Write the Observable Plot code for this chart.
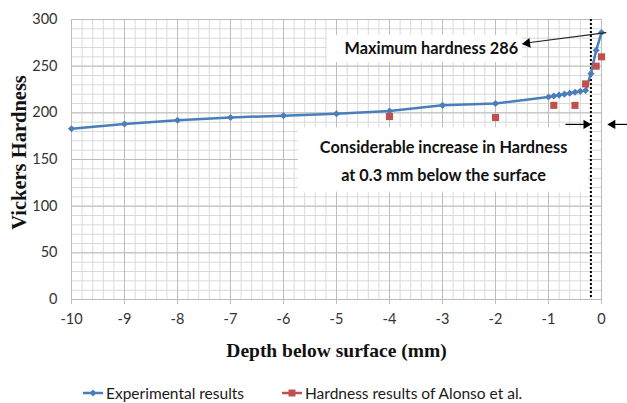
<!DOCTYPE html>
<html><head><meta charset="utf-8">
<script src="https://cdn.jsdelivr.net/npm/d3@7"></script>
<script src="https://cdn.jsdelivr.net/npm/@observablehq/plot@0.6"></script>
<style>
body{margin:0;background:#fff;}
#wrap{position:relative;width:627px;height:403px;overflow:hidden;background:#fff;}
#wrap svg{display:block;}
.leg{position:absolute;top:383px;height:20px;display:flex;align-items:center;font-family:Lato,"Liberation Sans",sans-serif;font-size:15.5px;color:#1a1a1a;white-space:nowrap;}
.leg svg{margin-right:3px;}
</style></head><body><div id="wrap"></div>
<script>
// ---- data ----
const depthExp = [-10, -9, -8, -7, -6, -5, -4, -3, -2, -1, -0.9, -0.8, -0.7, -0.6, -0.5, -0.4, -0.3, -0.2, -0.1, 0];
const hardExp  = [183, 188, 192, 195, 197, 199, 202, 208, 210, 217, 218, 219, 220, 221, 222, 223, 224, 242, 267, 286];
const depthAlonso = [-4, -2, -0.9, -0.5, -0.3, -0.1, 0];
const hardAlonso  = [196, 195, 208, 208, 231, 250, 260];
const xTicks = [-10, -9, -8, -7, -6, -5, -4, -3, -2, -1, 0];
const yTicks = [0, 50, 100, 150, 200, 250, 300];
const seriesNames = ["Experimental results", "Hardness results of Alonso et al."];
const xTitle = "Depth below surface (mm)";
const yTitle = "Vickers Hardness";
const noteMax = "Maximum hardness 286";
const noteInc1 = "Considerable increase in Hardness";
const noteInc2 = "at 0.3 mm below the surface";
const onsetDepth = -0.2;

const blue = "#4a7ebb", red = "#c0504d";
const exp = depthExp.map((d, i) => ({depth: d, hv: hardExp[i]}));
const alo = depthAlonso.map((d, i) => ({depth: d, hv: hardAlonso[i]}));
const xMinor = d3.range(-10, 0.001, 0.2).map(v => +v.toFixed(1));
const yMinor = d3.range(0, 301, 10);

const bold = {fontFamily: "Lato, 'Liberation Sans', sans-serif", fontWeight: "bold", fontSize: 16.3, fill: "#111"};
const serif = {fontFamily: "'Liberation Serif', 'DejaVu Serif', serif", fontWeight: "bold", fill: "#111"};

const chart = Plot.plot({
  width: 627, height: 372,
  marginLeft: 71, marginRight: 26, marginTop: 19, marginBottom: 73,
  x: {domain: [-10, 0]},
  y: {domain: [0, 300]},
  style: {fontFamily: "Lato, 'Liberation Sans', sans-serif", fontSize: "14.5px", color: "#404040", background: "white", overflow: "visible"},
  marks: [
    Plot.ruleX(xMinor, {stroke: "#d9d9d9", strokeWidth: 1}),
    Plot.ruleY(yMinor, {stroke: "#d9d9d9", strokeWidth: 1}),
    Plot.ruleX(xTicks, {stroke: "#bcbcbc", strokeWidth: 1}),
    Plot.ruleY(yTicks, {stroke: "#bcbcbc", strokeWidth: 1}),
    Plot.axisX({ticks: xTicks, tickSize: 5, tickPadding: 9, label: null, stroke: "#bcbcbc", fill: "#333", tickFormat: d => String(d)}),
    Plot.axisY({ticks: yTicks, tickSize: 0, tickPadding: 14, label: null, fill: "#333", tickFormat: d => String(d)}),
    // annotation boxes
    Plot.rect([{x1: -5.17, x2: -1.49, y1: 254, y2: 283}], {x1: "x1", x2: "x2", y1: "y1", y2: "y2", fill: "white"}),
    Plot.rect([{x1: -5.72, x2: -0.25, y1: 115, y2: 184}], {x1: "x1", x2: "x2", y1: "y1", y2: "y2", fill: "white"}),
    // onset line
    Plot.ruleX([onsetDepth], {stroke: "#000", strokeWidth: 2, strokeDasharray: "2,2"}),
    // series
    Plot.line(exp, {x: "depth", y: "hv", stroke: blue, strokeWidth: 2.5}),
    Plot.dot(exp, {x: "depth", y: "hv", symbol: "diamond2", r: 3.2, fill: blue}),
    Plot.dot(alo, {x: "depth", y: "hv", symbol: "square", r: 4, fill: red}),
    // arrows
    Plot.link([{x1: 0.09, y1: 286, x2: -1.42, y2: 274.8}], {x1: "x1", y1: "y1", x2: "x2", y2: "y2", stroke: "#222", strokeWidth: 1.2}),
    Plot.dot([{x: -1.40, y: 274.6}], {x: "x", y: "y", symbol: "triangle2", r: 4.6, fill: "#000", rotate: -97}),
    Plot.link([{x1: -0.68, y1: 187.6, x2: -0.3, y2: 187.6}, {x1: 0.49, y1: 187.6, x2: 0.22, y2: 187.6}], {x1: "x1", y1: "y1", x2: "x2", y2: "y2", stroke: "#000", strokeWidth: 1.2}),
    Plot.dot([{x: -0.29, y: 187.6, a: 90}, {x: 0.21, y: 187.6, a: -90}], {x: "x", y: "y", symbol: "triangle2", r: 4.4, fill: "#000", rotate: "a"}),
    // annotation texts
    Plot.text([{x: -3.21, y: 269, t: noteMax}], {x: "x", y: "y", text: "t", ...bold}),
    Plot.text([{x: -2.98, y: 163, t: noteInc1}, {x: -2.98, y: 133, t: noteInc2}], {x: "x", y: "y", text: "t", ...bold}),
    // axis titles
    Plot.text([yTitle], {frameAnchor: "left", dx: -52, dy: -7, rotate: -90, textAnchor: "middle", lineAnchor: "middle", fontSize: 20.5, ...serif}),
    Plot.text([xTitle], {frameAnchor: "bottom", dy: 51, textAnchor: "middle", lineAnchor: "middle", fontSize: 19.5, ...serif})
  ]
});
const wrap = document.getElementById("wrap");
wrap.appendChild(chart);

// legend
function legendItem(left, color, shape, label) {
  const div = document.createElement("div");
  div.className = "leg";
  div.style.left = left + "px";
  const mk = shape === "diamond"
    ? `<path d="M10,6.5 L13.5,10 L10,13.5 L6.5,10 Z" fill="${color}"/>`
    : `<rect x="6.5" y="6.5" width="7" height="7" fill="${color}"/>`;
  div.innerHTML = `<svg width="20" height="20"><line x1="0" y1="10" x2="20" y2="10" stroke="${color}" stroke-width="2.5"/>${mk}</svg><span>${label}</span>`;
  wrap.appendChild(div);
}
legendItem(83, blue, "diamond", seriesNames[0]);
legendItem(282, red, "square", seriesNames[1]);
</script></body></html>
